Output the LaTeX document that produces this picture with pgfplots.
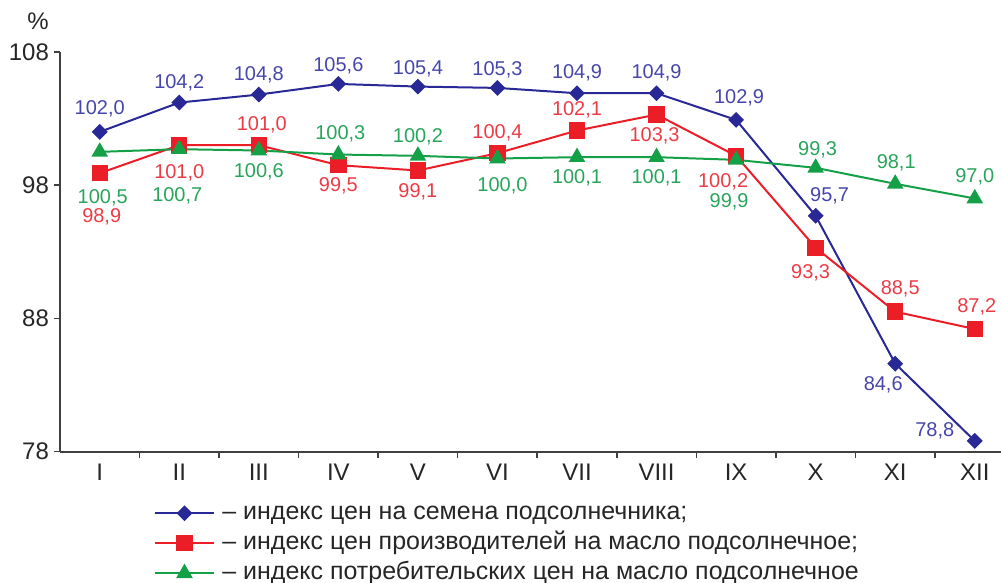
\documentclass[border=0pt]{standalone}
\usepackage{pgfplots}
\pgfplotsset{compat=1.18}
\usepackage{pgfplotstable}
\usepackage{fontspec}
\setmainfont{Liberation Sans}

\definecolor{sblue}{RGB}{40,40,150}
\definecolor{sbluelab}{RGB}{70,70,170}
\definecolor{sred}{RGB}{235,30,40}
\definecolor{sredlab}{RGB}{235,60,70}
\definecolor{sgreen}{RGB}{20,160,70}
\definecolor{sgreenlab}{RGB}{40,165,90}

% month, value, label text, label offset (pt)
\pgfplotstableread{
x y lab dx dy
1 102.0 102,0 0 11.5
2 104.2 104,2 0 10
3 104.8 104,8 0 10
4 105.6 105,6 0 9
5 105.4 105,4 0 9
6 105.3 105,3 0 9
7 104.9 104,9 0 10
8 104.9 104,9 0 10
9 102.9 102,9 1.5 11
10 95.7 95,7 7 10
11 84.6 84,6 -6 -10.5
12 78.8 78,8 -20 5
}\seeds

\pgfplotstableread{
x y lab dx dy
1 98.9 98,9 1 -22
2 101.0 101,0 0 -14
3 101.0 101,0 1.5 10
4 99.5 99,5 0 -10.5
5 99.1 99,1 0 -10.5
6 100.4 100,4 0 10
7 102.1 102,1 0 10.5
8 103.3 103,3 -1 -10.5
9 100.2 100,2 -6.5 -13
10 93.3 93,3 -2.5 -12.5
11 88.5 88,5 2.5 11.5
12 87.2 87,2 1 11
}\producer

\pgfplotstableread{
x y lab dx dy
1 100.5 100,5 1.5 -23
2 100.7 100,7 -1 -23.5
3 100.6 100,6 0 -10.5
4 100.3 100,3 1 10.5
5 100.2 100,2 0 9.5
6 100.0 100,0 2.5 -13.5
7 100.1 100,1 0 -10.5
8 100.1 100,1 0 -10.5
9 99.9 99,9 -3.5 -21
10 99.3 99,3 1 9
11 98.1 98,1 0.5 10.5
12 97.0 97,0 0 11
}\consumer

\pgfplotsset{
  lab/.style={
    nodes near coords,
    point meta=explicit symbolic,
    visualization depends on={\thisrow{dx}\as\dx},
    visualization depends on={\thisrow{dy}\as\dy},
    every node near coord/.append style={anchor=center, xshift=\dx pt, yshift=\dy pt,
      font=\fontsize{10}{12}\selectfont, text=#1, inner sep=0pt},
  },
}

\begin{document}
\begin{tikzpicture}
\begin{axis}[
  scale only axis,
  width=471pt, height=200pt,
  xmin=0.5, xmax=12.33,
  ymin=78, ymax=108,
  clip=false,
  axis lines*=left,
  axis line style={black!75, line width=1pt},
  tick align=outside,
  major tick length=3pt,
  tick style={black!75, line width=0.8pt},
  ytick={78,88,98,108},
  xtick={1.5,2.5,...,11.5},
  xticklabels={},
  extra x ticks={1,2,...,12},
  extra x tick labels={I,II,III,IV,V,VI,VII,VIII,IX,X,XI,XII},
  extra x tick style={major tick length=0pt, tick label style={yshift=-2.5pt}},
  y tick label style={xshift=1pt},
  tick label style={font=\fontsize{12}{14}\selectfont, text=black!85},
  /pgf/number format/assume math mode=true,
  ylabel={\%},
  every axis y label/.style={at={(rel axis cs:0,1)}, anchor=south, xshift=-11pt, yshift=11pt,
    inner sep=0pt, font=\fontsize{12}{14}\selectfont, text=black!85},
  legend style={at={(rel axis cs:0.099,-0.1025)}, anchor=north west, draw=none, fill=none,
    inner sep=0pt, font=\fontsize{12.5}{14}\selectfont, text=black!85,
    cells={anchor=base west},
    nodes={inner xsep=3.5pt, inner ysep=0.5pt, text height=13pt, text depth=1pt}},
  legend image code/.code={\draw[mark repeat=2,mark phase=2,#1] plot coordinates {(0pt,3.3pt) (15pt,3.3pt) (30pt,3.3pt)};},
]
\addplot[sblue, line width=1pt, mark=square*, mark size=2.3pt, mark options={solid, fill=sblue, rotate=45}, lab=sbluelab]
  table[x=x, y=y, meta=lab] {\seeds};
\addlegendentry{– индекс цен на семена подсолнечника;}
\addplot[sred, line width=1pt, mark=square*, mark size=3.6pt, mark options={solid, fill=sred}, lab=sredlab]
  table[x=x, y=y, meta=lab] {\producer};
\addlegendentry{– индекс цен производителей на масло подсолнечное;}
\addplot[sgreen, line width=1pt, mark=triangle*, mark size=3.8pt, mark options={solid, fill=sgreen}, lab=sgreenlab]
  table[x=x, y=y, meta=lab] {\consumer};
\addlegendentry{– индекс потребительских цен на масло подсолнечное}
\path (rel axis cs:-0.0637,-0.3275) rectangle (rel axis cs:1,1.13);
\end{axis}
\end{tikzpicture}
\end{document}
